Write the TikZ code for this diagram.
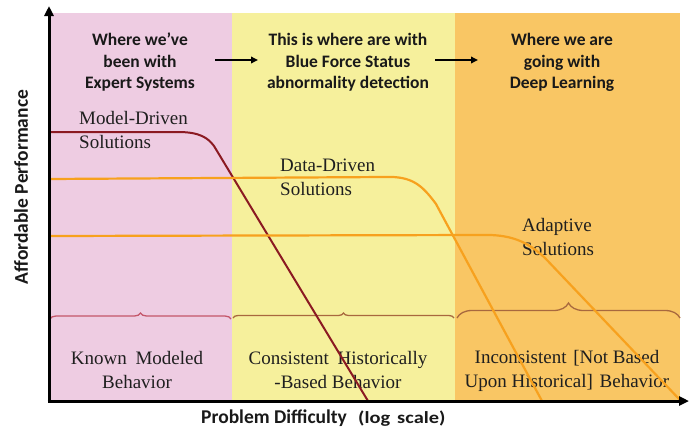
\documentclass[tikz,border=0pt]{standalone}
\usepackage{fontspec}
\usepackage{graphicx}
\setmainfont{Liberation Serif}
\newfontfamily\hdrfont{Carlito}
\usetikzlibrary{arrows.meta,decorations.pathreplacing}

\definecolor{zonepink}{HTML}{EECCE2}
\definecolor{zoneyellow}{HTML}{F6F09C}
\definecolor{zoneorange}{HTML}{F9C664}
\definecolor{modelred}{HTML}{8B1A22}
\definecolor{curveorange}{HTML}{F7A11E}
\definecolor{bracered}{HTML}{C4566A}
\definecolor{bracebrown}{HTML}{A8683E}

\tikzset{
  hdrtext/.style={font=\hdrfont\bfseries\fontsize{17.5}{21.5}\selectfont, align=center, inner sep=0pt, text=black!90},
  serifleft/.style={font=\fontsize{19}{24}\selectfont, align=left, inner sep=0pt, anchor=west, text=black!88},
  serifmid/.style={font=\fontsize{19}{24}\selectfont, align=center, inner sep=0pt, text=black!88},
  axislabel/.style={font=\hdrfont\bfseries\fontsize{19.5}{22}\selectfont, inner sep=0pt, text=black!90},
  hdrarrow/.style={line width=1.8pt, -{Triangle[length=7pt,width=6.5pt]}},
  axisline/.style={line width=3pt, -{Triangle[length=10pt,width=9pt]}},
  modelcurve/.style={line width=2pt, modelred},
  datacurve/.style={line width=2.2pt, curveorange},
  bracestyle/.style={line width=1.3pt, decorate, decoration={brace, amplitude=#1}},
}

\begin{document}
\begin{tikzpicture}[x=1pt,y=-1pt]
\useasboundingbox (0,0) rectangle (691,434);
\fill[white] (0,0) rectangle (691,434);

% three coloured zones
\fill[zonepink]   (49,13) rectangle (232,401);
\fill[zoneyellow] (232,13) rectangle (455,401);
\fill[zoneorange] (455,13) rectangle (680,401);

% headers
\node[hdrtext] (h1) at (140,62.5) {Where we’ve\\been with\\Expert Systems};
\node[hdrtext] (h2) at (348,62.5) {This is where are with\\Blue Force Status\\abnormality detection};
\node[hdrtext] (h3) at (562,62.5) {Where we are\\going with\\Deep Learning};
\coordinate (a1s) at (215,60);
\coordinate (a1e) at (258,60);
\coordinate (a2s) at (435,60);
\coordinate (a2e) at (478,60);
\draw[hdrarrow] (a1s) -- (a1e);
\draw[hdrarrow] (a2s) -- (a2e);

% curve labels
\node[serifleft] (lmodel) at (79,129.5) {Model-Driven\\Solutions};
\node[serifleft] (ldata) at (280,177.5) {Data-Driven\\Solutions};
\node[serifleft] (ladapt) at (522,237) {Adaptive\\Solutions};

% braces
\draw[bracestyle=6pt, bracered]   (50,319) -- (231,319);
\draw[bracestyle=5pt, bracebrown] (233,318) -- (454,318);
\draw[bracestyle=15pt, bracebrown] (457,318) -- (680,318);

% behaviour labels
\node[serifmid] (b1) at (137,370) {Known\hspace{4pt} Modeled\\Behavior};
\node[serifmid] (b2) at (338,370) {Consistent\hspace{4pt} Historically\\-Based Behavior};
\node[serifmid] (b3) at (567,371) {Inconsistent\hspace{2pt} [Not Based\\Upon Historical]\hspace{2pt} Behavior};

% performance curves
\draw[modelcurve] (49,132) -- (178,132) .. controls (200,132) and (208,138) .. (214,146) -- (368,401);
\draw[datacurve] (49,179) -- (385,177) .. controls (412,176) and (422,185) .. (436,204) -- (542,401);
\draw[datacurve] (49,236) -- (480,235) .. controls (510,234) and (527,241) .. (545,258) -- (680,400);

% axes
\coordinate (origin) at (49,401);
\coordinate (ytip) at (49,6);
\coordinate (xtip) at (689,401);
\draw[axisline] (origin) -- (ytip);
\draw[axisline] ([xshift=-1.5pt]origin) -- (xtip);

% axis labels
\node[axislabel, rotate=90] (ylab) at (21,187) {Affordable Performance};
\node[axislabel, anchor=base west] (xlab) at (201,423) {Problem Difficulty};
\node[axislabel, anchor=base west, font=\hdrfont\bfseries\fontsize{17}{20}\selectfont] (xunit) at (358,423) {\scalebox{1.2}[1]{(log\hspace{2pt} scale)}};
\end{tikzpicture}
\end{document}
